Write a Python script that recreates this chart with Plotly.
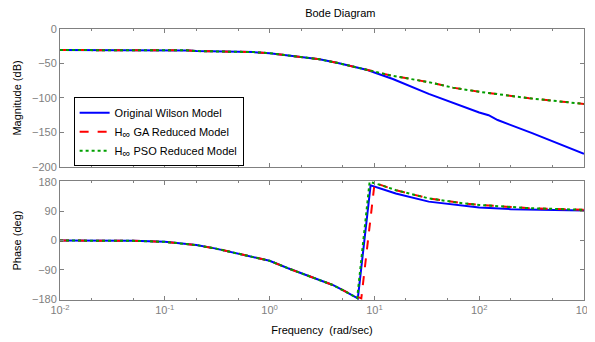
import plotly.graph_objects as go

# ---------------- data ----------------
mag_freq = [0.01, 0.03, 0.1, 0.17, 0.2, 0.5, 0.7, 1, 1.5, 2, 3, 4.6, 6, 8.6]
mag_common = [-30.5, -30.5, -30.5, -31, -32, -32.5, -33.5, -35, -38, -40, -44, -49.7, -54, -59.4]

mag_tail_freq_orig = [10, 15, 33, 56, 100, 123, 150, 320, 1000]
mag_tail_orig = [-63, -72.5, -94, -107, -121, -125, -132, -151, -181]

mag_tail_freq_red = [10, 15, 33, 56, 100, 300, 1000]
mag_tail_red = [-62, -68, -77, -85, -91, -100.4, -108.7]
mag_tail_green = [-62, -68, -77, -85, -91, -100.4, -108.7]

ph_freq = [0.01, 0.03, 0.05, 0.1, 0.2, 0.3, 0.5, 0.7, 1, 1.5, 2, 3, 4, 5, 6]
ph_common = [0, 0, -1, -4, -14, -24, -40, -50, -62, -85, -100, -120, -136, -152, -165]

ph_freq_orig = [6.95, 9.2, 12, 16, 33, 69, 100, 200, 500, 1000]
ph_orig = [-177, 169, 157, 144, 119, 106, 101, 96, 93.5, 92]

ph_freq_red = [7.5, 10.05, 12, 16, 33, 69, 100, 300, 1000]
ph_red = [-177, 177, 168, 154, 129, 114, 109, 99, 94]

ph_freq_green = [6.85, 9.0, 12, 16, 33, 69, 100, 300, 1000]
ph_green = [-176, 179.5, 168, 154, 129, 114, 109, 99, 94]

x_tickvals = [0.01, 0.1, 1, 10, 100, 1000]
x_ticktext = ["10<sup>-2</sup>", "10<sup>-1</sup>", "10<sup>0</sup>", "10<sup>1</sup>", "10<sup>2</sup>", "10<sup>3</sup>"]
mag_ticks = [0, -50, -100, -150, -200]
ph_ticks = [180, 90, 0, -90, -180]

INF = "<sub><span style='font-size:11px'>∞</span></sub>"
names = ["Original Wilson Model", "H" + INF + " GA Reduced Model", "H" + INF + " PSO Reduced Model"]
colors = ["#0000ff", "#ff0000", "#00a000"]
dashes = ["solid", "dash", "dot"]

# --------------- figure ---------------
fig = go.Figure()

mag_x = [mag_freq + mag_tail_freq_orig, mag_freq + mag_tail_freq_red, mag_freq + mag_tail_freq_red]
mag_y = [mag_common + mag_tail_orig, mag_common + mag_tail_red, mag_common + mag_tail_green]
ph_x = [ph_freq + ph_freq_orig, ph_freq + ph_freq_red, ph_freq + ph_freq_green]
ph_y = [ph_common + ph_orig, ph_common + ph_red, ph_common + ph_green]

for i in range(3):
    fig.add_trace(go.Scatter(x=mag_x[i], y=mag_y[i], mode="lines", name=names[i],
                             line=dict(color=colors[i], width=2, dash=dashes[i]),
                             xaxis="x", yaxis="y", showlegend=True))
for i in range(3):
    fig.add_trace(go.Scatter(x=ph_x[i], y=ph_y[i], mode="lines", name=names[i],
                             line=dict(color=colors[i], width=2, dash=dashes[i]),
                             xaxis="x2", yaxis="y2", showlegend=False))

axis_gray = "#808080"
font_family = "Liberation Sans, Arial, sans-serif"

common_x = dict(type="log", range=[-2, 3], tickvals=x_tickvals, ticktext=x_ticktext, automargin=False,
                showline=True, linecolor=axis_gray, linewidth=1, mirror="ticks",
                ticks="inside", ticklen=4, tickcolor=axis_gray, showgrid=False, zeroline=False,
                minor=dict(ticks="inside", ticklen=2, tickcolor=axis_gray, showgrid=False),
                tickfont=dict(color=axis_gray, size=11, family=font_family))
common_y = dict(showline=True, linecolor=axis_gray, linewidth=1, mirror="ticks", automargin=False,
                ticks="inside", ticklen=4, tickcolor=axis_gray, showgrid=False, zeroline=False,
                tickfont=dict(color=axis_gray, size=11, family=font_family))

# page body has an 8px margin: figure is drawn at (8, 8) on screen
W, H = 587, 334
fig.update_layout(
    width=W, height=H,
    margin=dict(l=52, r=11, t=21, b=42),
    paper_bgcolor="white", plot_bgcolor="white",
    font=dict(family=font_family, size=11, color="black"),
    title=dict(text="Bode Diagram", x=(322 - 8) / W, xref="paper", xanchor="center",
               y=1 - 5 / H, yanchor="middle", font=dict(size=11, color="black")),
    xaxis=dict(common_x, anchor="y", domain=[0, 1], showticklabels=False),
    yaxis=dict(common_y, domain=[0.491, 1.0], range=[-200, 0], tickvals=mag_ticks,
               title=dict(text="Magnitude (dB)", font=dict(size=11, color="black"), standoff=8)),
    xaxis2=dict(common_x, anchor="y2", domain=[0, 1], matches="x",
                title=dict(text="Frequency\u00a0\u00a0(rad/sec)", font=dict(size=11, color="black"), standoff=11)),
    yaxis2=dict(common_y, domain=[0, 0.439], range=[-182, 182], tickvals=ph_ticks,
                title=dict(text="Phase (deg)", font=dict(size=11, color="black"), standoff=8)),
    legend=dict(x=0.026, y=0.748, xanchor="left", yanchor="top", bgcolor="white",
                bordercolor="black", borderwidth=1, font=dict(size=11, color="black"),
                tracegroupgap=0),
    showlegend=True,
)

fig.write_html("out.html")
